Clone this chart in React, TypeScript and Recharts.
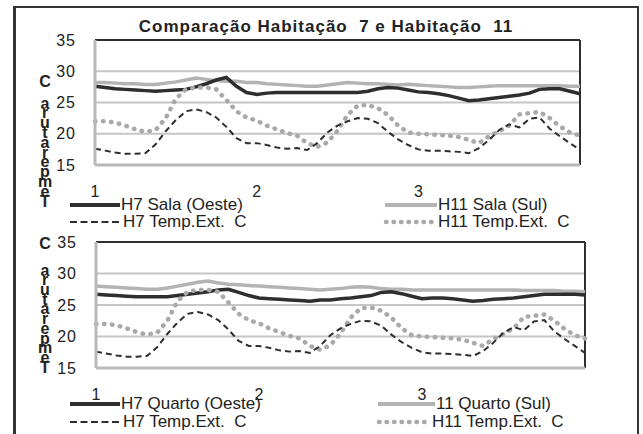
import { LineChart, Line, XAxis, YAxis, CartesianGrid, ReferenceLine } from 'recharts'

const days = ['1', '2', '3']
const dayTicks = [0, 16, 32]
const yTicks = [15, 20, 25, 30, 35]
const yLetters = ['C', 'a', 'r', 'u', 't', 'a', 'r', 'e', 'p', 'm', 'e', 'T']

const h7Sala = [27.6, 27.4, 27.2, 27.1, 27.0, 26.9, 26.8, 26.9, 27.0, 27.1, 27.5, 28.0, 28.6, 29.0, 27.6, 26.6, 26.3,
    26.5, 26.6, 26.6, 26.6, 26.6, 26.6, 26.6, 26.6, 26.6, 26.6, 26.8, 27.2, 27.4, 27.3, 27.0, 26.7, 26.6, 26.4, 26.1,
    25.7, 25.3, 25.4, 25.6, 25.8, 26.0, 26.2, 26.5, 27.1, 27.2, 27.2, 26.8, 26.4]
const h11Sala = [28.2, 28.2, 28.1, 28.0, 28.0, 27.9, 27.9, 28.1, 28.3, 28.6, 28.9, 28.7, 28.5, 28.4, 28.4, 28.2, 28.2,
    28.0, 27.9, 27.8, 27.7, 27.6, 27.6, 27.8, 28.0, 28.2, 28.1, 28.0, 28.0, 27.9, 27.8, 27.9, 27.8, 27.7, 27.6, 27.5,
    27.4, 27.4, 27.5, 27.6, 27.7, 27.7, 27.7, 27.7, 27.7, 27.7, 27.7, 27.6, 27.6]
const h7Quarto = [26.7, 26.6, 26.5, 26.4, 26.3, 26.3, 26.3, 26.3, 26.5, 26.7, 26.9, 27.1, 27.4, 27.5, 27.0, 26.5, 26.1,
    26.0, 25.9, 25.8, 25.7, 25.6, 25.8, 25.8, 26.0, 26.1, 26.3, 26.5, 27.0, 27.1, 26.8, 26.4, 26.0, 26.1, 26.1, 26.0,
    25.8, 25.6, 25.7, 25.9, 26.0, 26.1, 26.3, 26.5, 26.7, 26.7, 26.7, 26.7, 26.6]
const h11Quarto = [28.0, 27.9, 27.8, 27.7, 27.6, 27.5, 27.5, 27.7, 28.0, 28.3, 28.6, 28.8, 28.5, 28.3, 28.2, 28.1, 28.0,
    27.9, 27.8, 27.7, 27.6, 27.5, 27.4, 27.5, 27.6, 27.8, 27.9, 27.8, 27.6, 27.5, 27.5, 27.4, 27.4, 27.4, 27.4, 27.4,
    27.4, 27.4, 27.4, 27.4, 27.4, 27.4, 27.3, 27.3, 27.3, 27.3, 27.2, 27.2, 27.1]
const h7Ext = [17.6, 17.3, 17.0, 16.8, 16.8, 16.9, 18.3, 20.4, 22.2, 23.6, 23.9, 23.5, 22.6, 21.1, 19.3, 18.5, 18.5,
    18.2, 17.8, 17.6, 17.7, 17.4, 18.5, 20.2, 21.3, 22.0, 22.5, 22.4, 21.7, 20.3, 19.1, 18.2, 17.5, 17.3, 17.3, 17.2,
    17.1, 16.9, 17.7, 19.0, 20.6, 21.5, 21.0, 22.4, 22.6, 20.8, 19.6, 18.5, 17.4]
const h11Ext = [22.0, 22.0, 21.8, 21.3, 20.7, 20.3, 20.6, 22.5, 25.6, 27.1, 27.4, 27.4, 27.1, 25.4, 23.6, 22.6, 22.1,
    21.3, 20.7, 20.1, 19.7, 18.5, 17.9, 18.6, 20.5, 23.0, 24.5, 24.6, 24.1, 23.0, 21.3, 20.2, 20.0, 19.9, 19.8, 19.7,
    19.5, 19.0, 18.5, 19.6, 20.4, 21.3, 23.1, 23.3, 23.5, 22.5, 21.2, 20.2, 19.7]

const FONT = '"Liberation Sans", Arial, sans-serif'
const DARK = '#2e2e2e'
const GRAY = '#b3b3b3'
const DOT = '#a9a9a9'

type PanelProps = {
    top: number
    height: number
    margin: { top: number; right: number; left: number; bottom: number }
    roomA: number[]
    roomB: number[]
    labelC: number
    labelStart: number
    labelStep: number
}

function Panel({ top, height, margin, roomA, roomB, labelC, labelStart, labelStep }: PanelProps) {
    const data = roomA.map((v, i) => ({ i, a: v, b: roomB[i], extA: h7Ext[i], extB: h11Ext[i] }))

    // letters stacked one under the other, as in the source
    const stacked = () => (
        <text fontFamily={FONT} fontWeight="bold" fontSize={16} fill="#222" textAnchor="middle">
            {yLetters.map((ch, k) => (
                <tspan key={k} x={45} y={k === 0 ? labelC : labelStart + (k - 1) * labelStep} dy="0.35em">{ch}</tspan>
            ))}
        </text>
    )

    return (
        <div style={{ position: 'absolute', left: 0, top }}>
            <LineChart width={600} height={height} data={data} margin={margin}>
                <CartesianGrid horizontal vertical={false} stroke="#c6c6c6" strokeWidth={2} />
                <XAxis
                    dataKey="i"
                    type="number"
                    domain={[0, 48]}
                    ticks={dayTicks}
                    tickFormatter={(v: number) => days[dayTicks.indexOf(v)]}
                    height={40}
                    tickSize={0}
                    tickMargin={21}
                    axisLine={{ stroke: '#b8b8b8', strokeWidth: 3 }}
                    tick={{ fill: '#222', fontSize: 16, fontFamily: FONT }}
                />
                <YAxis
                    domain={[15, 35]}
                    ticks={yTicks}
                    width={40}
                    tickSize={0}
                    tickMargin={19}
                    axisLine={{ stroke: '#b8b8b8', strokeWidth: 3 }}
                    tick={{ fill: '#222', fontSize: 16, fontFamily: FONT, letterSpacing: 1 }}
                    label={{ content: stacked }}
                />
                <ReferenceLine y={35} stroke={DARK} strokeWidth={2} />
                <ReferenceLine x={48} stroke={DARK} strokeWidth={2} />
                <Line dataKey="b" stroke={GRAY} strokeWidth={3.5} dot={false} isAnimationActive={false} />
                <Line dataKey="a" stroke={DARK} strokeWidth={3.5} dot={false} isAnimationActive={false} />
                <Line dataKey="extB" stroke={DOT} strokeWidth={4.5} strokeDasharray="0.5 7.5" strokeLinecap="round"
                    dot={false} isAnimationActive={false} />
                <Line dataKey="extA" stroke={DARK} strokeWidth={2} strokeDasharray="6 4" dot={false} isAnimationActive={false} />
            </LineChart>
        </div>
    )
}

type LegendItem = { label: string; color: string; width: number; dash?: string; cap?: 'round'; x: number; len: number; textX: number }

function LegendRow({ y, items }: { y: number; items: LegendItem[] }) {
    return (
        <>
            {items.map((it, k) => (
                <div key={k}>
                    <svg style={{ position: 'absolute', left: it.x, top: y - 5 }} width={it.len} height={10}>
                        <line x1={it.cap ? 3 : 0} y1={5} x2={it.len} y2={5} stroke={it.color} strokeWidth={it.width}
                            strokeDasharray={it.dash} strokeLinecap={it.cap} />
                    </svg>
                    <div style={{
                        position: 'absolute', left: it.textX, top: y - 10, fontFamily: FONT, fontSize: 17,
                        lineHeight: '20px', color: '#222', whiteSpace: 'pre'
                    }}>{it.label}</div>
                </div>
            ))}
        </>
    )
}

export default function App() {
    return (
        <div style={{ position: 'absolute', left: 0, top: 0, width: 643, height: 434, overflow: 'hidden', background: '#fff' }}>
            <div style={{
                position: 'absolute', left: 13, top: 6, width: 621, height: 450,
                borderTop: '2px solid #333', borderRight: '2px solid #333', borderLeft: '3px solid #333'
            }} />
            <div style={{
                position: 'absolute', left: 0, width: 652, top: 17, textAlign: 'center', fontFamily: FONT,
                fontWeight: 'bold', fontSize: 17, letterSpacing: 1, color: '#222', whiteSpace: 'pre'
            }}>Comparação Habitação  7 e Habitação  11</div>

            <Panel top={0} height={210} margin={{ top: 40, right: 20, left: 55, bottom: 5 }}
                roomA={h7Sala} roomB={h11Sala} labelC={81} labelStart={103} labelStep={9.8} />
            <Panel top={200} height={213} margin={{ top: 42, right: 15, left: 56, bottom: 5 }}
                roomA={h7Quarto} roomB={h11Quarto} labelC={43} labelStart={70} labelStep={9.7} />

            <LegendRow y={205} items={[
                { label: 'H7 Sala (Oeste)', color: DARK, width: 4, x: 70, len: 50, textX: 121 },
                { label: 'H11 Sala (Sul)', color: GRAY, width: 4, x: 385, len: 52, textX: 438 },
            ]} />
            <LegendRow y={222} items={[
                { label: 'H7 Temp.Ext.  C', color: DARK, width: 2, dash: '7 3.5', x: 70, len: 50, textX: 123 },
                { label: 'H11 Temp.Ext.  C', color: DOT, width: 4.5, dash: '0.5 7', cap: 'round', x: 383, len: 52, textX: 438 },
            ]} />
            <LegendRow y={404} items={[
                { label: 'H7 Quarto (Oeste)', color: DARK, width: 4, x: 70, len: 50, textX: 121 },
                { label: '11 Quarto (Sul)', color: GRAY, width: 4, x: 378, len: 57, textX: 436 },
            ]} />
            <LegendRow y={422} items={[
                { label: 'H7 Temp.Ext.  C', color: DARK, width: 2, dash: '7 3.5', x: 70, len: 50, textX: 123 },
                { label: 'H11 Temp.Ext.  C', color: DOT, width: 4.5, dash: '0.5 7', cap: 'round', x: 376, len: 52, textX: 432 },
            ]} />
        </div>
    )
}
